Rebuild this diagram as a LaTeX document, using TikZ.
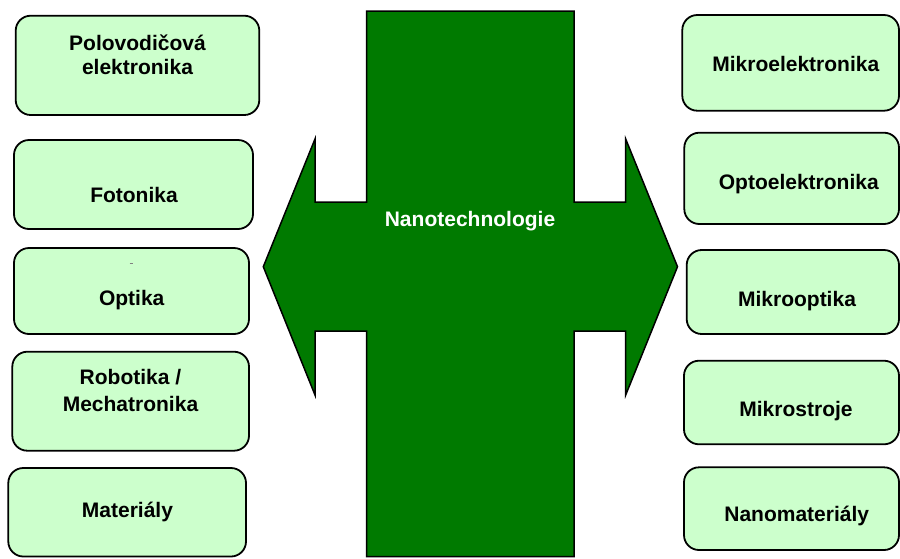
\documentclass[tikz,border=0pt]{standalone}
\usepackage{fontspec}
\setmainfont{Liberation Sans}
\definecolor{boxfill}{HTML}{CCFFCC}
\definecolor{nanogreen}{HTML}{007A00}
\tikzset{
  box/.style={draw=black, line width=1.8pt, fill=boxfill, rounded corners=15pt, inner sep=0pt, outer sep=0pt},
  lbl/.style={font=\fontsize{21}{24}\selectfont\bfseries, text=black, inner sep=0pt, anchor=base, align=center},
  biglbl/.style={lbl, text=white},
  cross/.style={draw=black, line width=1.5pt, fill=nanogreen, line join=miter}
}
\begin{document}
\begin{tikzpicture}[x=1pt, y=-1pt]
\useasboundingbox[fill=white] (0,0) rectangle (900,558);
% central cross-arrow
\draw[cross] (366.7,11) -- (574,11) -- (574,202) -- (625.7,202) -- (625.7,139) -- (677.5,266.7)
  -- (625.7,395) -- (625.7,331) -- (574,331) -- (574,556.7) -- (366.7,556.7) -- (366.7,331)
  -- (315,331) -- (315,395) -- (263.3,266.7) -- (315,139) -- (315,202) -- (366.7,202) -- cycle;
\node[biglbl] (nano) at (470,226) {Nanotechnologie};
% left boxes
\node[box, minimum width=243.6pt, minimum height=99.3pt] (L1) at (137.5,65.35) {};
\node[box, minimum width=239pt, minimum height=89pt] (L2) at (133.5,184.5) {};
\node[box, minimum width=235pt, minimum height=86pt] (L3) at (131.5,291) {};
\node[box, minimum width=236.7pt, minimum height=99pt] (L4) at (130.65,401.2) {};
\node[box, minimum width=237.7pt, minimum height=88.5pt] (L5) at (127.15,512.25) {};
\node[lbl] (tL1) at (137.5,74) {Polovodičová\\elektronika};
\node[lbl] (tL2) at (134,202) {Fotonika};
\node[lbl] (tL3) at (131.7,305) {Optika};
\node[lbl, font=\fontsize{21}{27}\selectfont\bfseries] (tL4) at (130.5,411) {Robotika /\\Mechatronika};
\node[lbl] (tL5) at (127.5,517) {Materiály};
\draw[gray, line width=1pt] (129.5,263) -- (132.5,263);
% right boxes
\node[box, minimum width=216.7pt, minimum height=95.7pt] (R1) at (790.65,62.85) {};
\node[box, minimum width=214.7pt, minimum height=91.3pt] (R2) at (791.65,178.35) {};
\node[box, minimum width=212.3pt, minimum height=84pt] (R3) at (792.85,292) {};
\node[box, minimum width=215pt, minimum height=83.6pt] (R4) at (791.5,402.5) {};
\node[box, minimum width=215pt, minimum height=82.7pt] (R5) at (791.5,508.65) {};
\node[lbl] (tR1) at (795.8,71.7) {Mikroelektronika};
\node[lbl] (tR2) at (798.8,189) {Optoelektronika};
\node[lbl] (tR3) at (797,306) {Mikrooptika};
\node[lbl] (tR4) at (796,416) {Mikrostroje};
\node[lbl] (tR5) at (796.7,521.7) {Nanomateriály};
\end{tikzpicture}
\end{document}
